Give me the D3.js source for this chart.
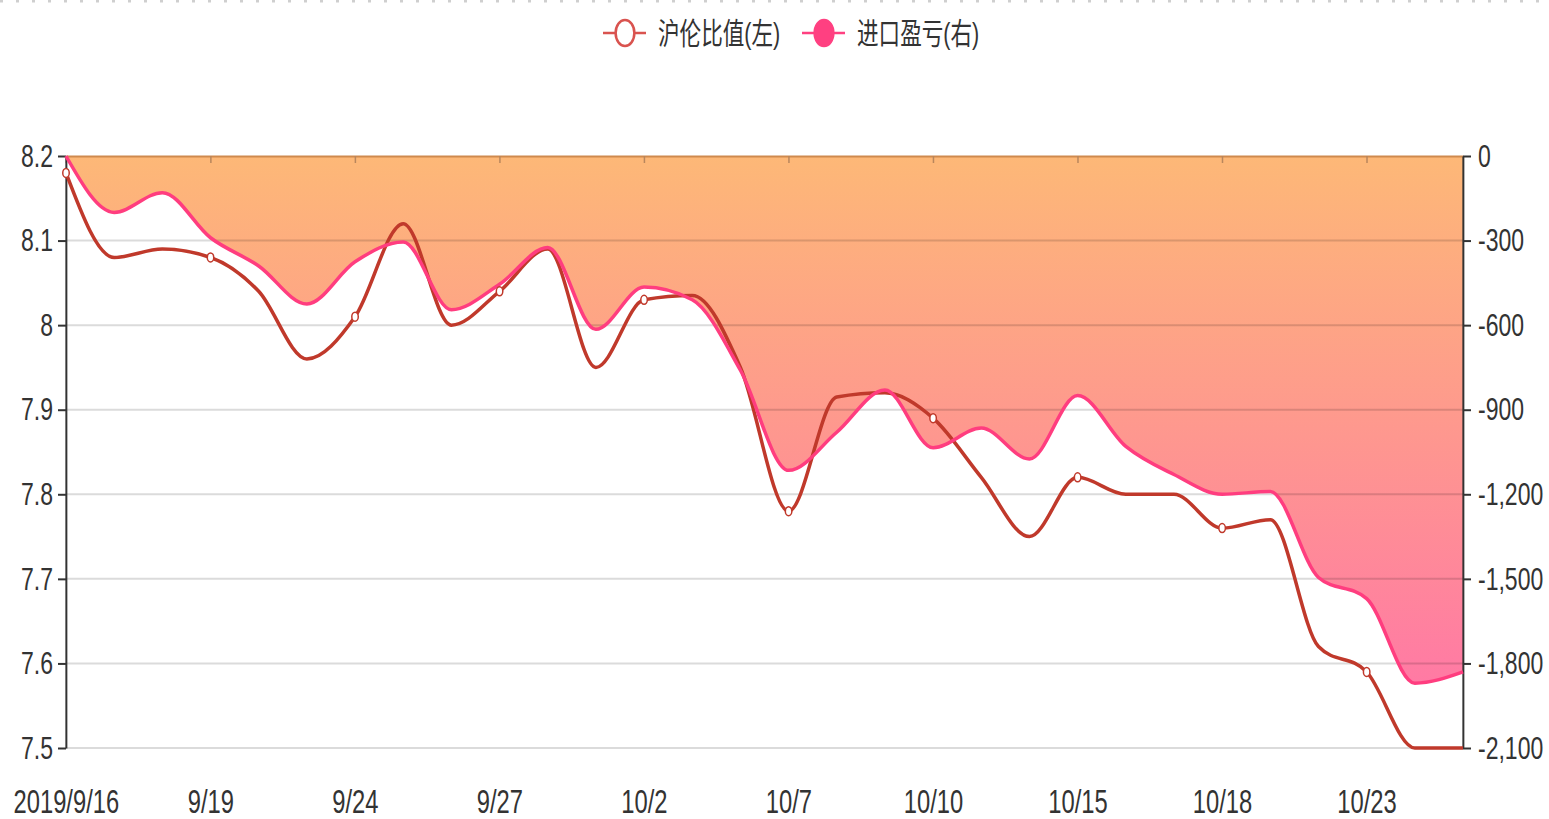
<!DOCTYPE html>
<html>
<head>
<meta charset="utf-8">
<script src="https://cdn.jsdelivr.net/npm/d3@7"></script>
<style>
html, body { margin: 0; padding: 0; background: #fff; overflow: hidden; }
svg { display: block; }
text { font-family: "Liberation Sans", "Noto Sans CJK SC", sans-serif; fill: #333; }
</style>
</head>
<body>
<div id="chart"></div>
<script>
// dates (trading days) and the two series
var dates = ["2019/9/16","9/17","9/18","9/19","9/20","9/23","9/24","9/25","9/26","9/27",
	"9/30","10/1","10/2","10/3","10/4","10/7","10/8","10/9","10/10","10/11",
	"10/14","10/15","10/16","10/17","10/18","10/21","10/22","10/23","10/24","10/25"];

var ratio = [8.18, 8.08, 8.09, 8.08, 8.04, 7.96, 8.01, 8.12, 8.00, 8.04,
	8.09, 7.95, 8.03, 8.035, 7.95, 7.78, 7.915, 7.92, 7.89, 7.82,
	7.75, 7.82, 7.80, 7.80, 7.76, 7.77, 7.62, 7.59, 7.50, 7.50];

var profit = [0, -200, -130, -290, -390, -525, -375, -305, -545, -455,
	-325, -615, -465, -510, -760, -1115, -980, -830, -1035, -965,
	-1075, -850, -1030, -1130, -1200, -1190, -1495, -1570, -1870, -1830];

var leftTicks = [7.5, 7.6, 7.7, 7.8, 7.9, 8, 8.1, 8.2];
var rightTicks = [-2100, -1800, -1500, -1200, -900, -600, -300, 0];
var legendNames = ["沪伦比值(左)", "进口盈亏(右)"];

// the picture is squeezed horizontally, so draw wide and squeeze with the viewBox
var SX = 0.72;
var W = 1549, H = 819;
var VW = W / SX;
function vx(px) { return px / SX; }

var svg = d3.select("#chart").append("svg")
	.attr("width", W)
	.attr("height", H)
	.attr("viewBox", "0 0 " + VW + " " + H)
	.attr("preserveAspectRatio", "none");

var plotLeft = 66, plotRight = 1463, plotTop = 156, plotBottom = 748;

var xScale = d3.scalePoint().domain(dates).range([vx(plotLeft), vx(plotRight)]);
var yLeft = d3.scaleLinear().domain([7.5, 8.2]).range([plotBottom, plotTop]);
var yRight = d3.scaleLinear().domain([-2100, 0]).range([plotBottom, plotTop]);

var shown = dates.filter(function(d, i) { return i % 3 == 0; });

// gradient for the area
var grad = svg.append("defs").append("linearGradient")
	.attr("id", "fillGrad")
	.attr("x1", 0).attr("y1", 0).attr("x2", 0).attr("y2", 1);
grad.append("stop").attr("offset", "0%").attr("stop-color", "#fdb877");
grad.append("stop").attr("offset", "100%").attr("stop-color", "#ff7aa4");

// dotted border at the very top
svg.append("line")
	.attr("x1", 0).attr("x2", VW).attr("y1", 1).attr("y2", 1)
	.attr("stroke", "#cfcfcf")
	.attr("stroke-width", 3)
	.attr("stroke-dasharray", vx(3) + "," + vx(13));

// area of 进口盈亏
var area = d3.area()
	.x(function(d, i) { return xScale(dates[i]); })
	.y0(yRight(0))
	.y1(function(d) { return yRight(d); })
	.curve(d3.curveMonotoneX);

svg.append("path")
	.datum(profit)
	.attr("d", area)
	.attr("fill", "url(#fillGrad)");

// grid lines (drawn over the area, translucent)
svg.selectAll(".grid")
	.data(leftTicks.filter(function(d) { return d < 8.2; }))
	.enter().append("line")
	.attr("class", "grid")
	.attr("x1", vx(plotLeft)).attr("x2", vx(plotRight))
	.attr("y1", function(d) { return yLeft(d); })
	.attr("y2", function(d) { return yLeft(d); })
	.attr("stroke", "#000")
	.attr("stroke-opacity", 0.14)
	.attr("stroke-width", 2)
	.attr("vector-effect", "non-scaling-stroke");

// x axis line on top with ticks pointing down
var xTop = svg.append("g")
	.attr("transform", "translate(0," + plotTop + ")")
	.call(d3.axisBottom(xScale).tickValues(shown).tickSize(7).tickSizeOuter(0).tickFormat(""));
xTop.select(".domain").attr("stroke", "#cf8a4e").attr("stroke-width", 2).attr("vector-effect", "non-scaling-stroke");
xTop.selectAll(".tick line").attr("stroke", "#b9865c").attr("stroke-width", 1.5).attr("vector-effect", "non-scaling-stroke");

// x labels at the bottom
var xBottom = svg.append("g")
	.attr("transform", "translate(0," + plotBottom + ")")
	.call(d3.axisBottom(xScale).tickValues(shown).tickSizeInner(0).tickSizeOuter(0).tickPadding(42));
xBottom.select(".domain").remove();
xBottom.selectAll("text").attr("font-size", 33).attr("fill", "#333")
	.style("font-family", "'Liberation Sans', sans-serif");

// left axis
var yl = svg.append("g")
	.attr("transform", "translate(" + vx(plotLeft) + ",0)")
	.call(d3.axisLeft(yLeft).tickValues(leftTicks).tickSize(vx(8)).tickSizeOuter(0).tickPadding(vx(5))
		.tickFormat(function(d) { return String(+d.toFixed(1)); }));
yl.selectAll("text").attr("font-size", 32).attr("fill", "#333")
	.style("font-family", "'Liberation Sans', sans-serif");
yl.selectAll("path, line").attr("stroke", "#333").attr("stroke-width", 2).attr("vector-effect", "non-scaling-stroke");

// right axis
var yr = svg.append("g")
	.attr("transform", "translate(" + vx(plotRight) + ",0)")
	.call(d3.axisRight(yRight).tickValues(rightTicks).tickSize(vx(8)).tickSizeOuter(0).tickPadding(vx(7))
		.tickFormat(function(d) { return d3.format(",")(d).replace("\u2212", "-"); }));
yr.selectAll("text").attr("font-size", 32).attr("fill", "#333")
	.style("font-family", "'Liberation Sans', sans-serif");
yr.selectAll("path, line").attr("stroke", "#333").attr("stroke-width", 2).attr("vector-effect", "non-scaling-stroke");

// lines
var lineL = d3.line()
	.x(function(d, i) { return xScale(dates[i]); })
	.y(function(d) { return yLeft(d); })
	.curve(d3.curveMonotoneX);

var lineR = d3.line()
	.x(function(d, i) { return xScale(dates[i]); })
	.y(function(d) { return yRight(d); })
	.curve(d3.curveMonotoneX);

svg.append("path")
	.datum(ratio)
	.attr("d", lineL)
	.attr("fill", "none")
	.attr("stroke", "#c0392b")
	.attr("stroke-width", 3.5)
	.attr("vector-effect", "non-scaling-stroke");

svg.append("path")
	.datum(profit)
	.attr("d", lineR)
	.attr("fill", "none")
	.attr("stroke", "#ff3d7f")
	.attr("stroke-width", 3.5)
	.attr("vector-effect", "non-scaling-stroke");

// markers on the ratio line, every third point
svg.selectAll(".dot")
	.data(ratio.map(function(v, i) { return {i: i, v: v}; }).filter(function(d) { return d.i % 3 == 0; }))
	.enter().append("circle")
	.attr("class", "dot")
	.attr("cx", function(d) { return xScale(dates[d.i]); })
	.attr("cy", function(d) { return yLeft(d.v); })
	.attr("r", 4.5)
	.attr("fill", "#fff")
	.attr("stroke", "#c0392b")
	.attr("stroke-width", 1.5)
	.attr("vector-effect", "non-scaling-stroke");

// legend
var legend = [
	{name: legendNames[0], color: "#d9534f", x: 603, fill: "#fff"},
	{name: legendNames[1], color: "#ff4081", x: 802, fill: "#ff4081"}
];
var lg = svg.selectAll(".legend").data(legend).enter().append("g").attr("class", "legend");
lg.append("line")
	.attr("x1", function(d) { return vx(d.x); })
	.attr("x2", function(d) { return vx(d.x + 43); })
	.attr("y1", 33).attr("y2", 33)
	.attr("stroke", function(d) { return d.color; })
	.attr("stroke-width", 2.5)
	.attr("vector-effect", "non-scaling-stroke");
lg.append("circle")
	.attr("cx", function(d) { return vx(d.x + 22); })
	.attr("cy", 33)
	.attr("r", 13)
	.attr("fill", function(d) { return d.fill; })
	.attr("stroke", function(d) { return d.color; })
	.attr("stroke-width", 2.5)
	.attr("vector-effect", "non-scaling-stroke");
lg.append("text")
	.attr("x", function(d) { return vx(d.x + 55); })
	.attr("y", 44)
	.attr("font-size", 30)
	.attr("fill", "#333")
	.text(function(d) { return d.name; });
</script>
</body>
</html>
